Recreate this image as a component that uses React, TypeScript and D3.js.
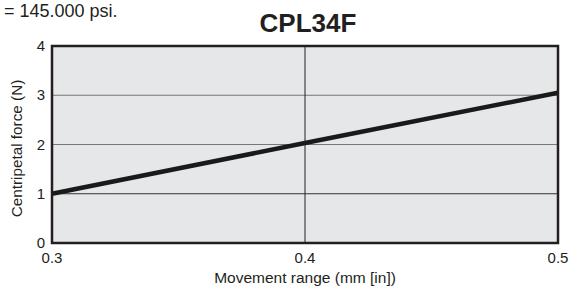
import * as d3 from "d3";
import React, { useRef, useEffect } from "react";

// data
const movement = [0.3, 0.4, 0.5];
const force = [1.0, 2.03, 3.05];
const xTicks = [0.3, 0.4, 0.5];
const yTicks = [0, 1, 2, 3, 4];

const width = 571;
const height = 290;
const margin = { top: 46, right: 13, bottom: 47, left: 52 };
const font = "'Liberation Sans', Arial, sans-serif";
const ink = "#231f20";

export default function App() {
  const ref = useRef<SVGSVGElement>(null);

  useEffect(() => {
    const svg = d3.select(ref.current);
    svg.selectAll("*").remove();

    const x = d3
      .scaleLinear()
      .domain([0.3, 0.5])
      .range([margin.left, width - margin.right]);
    const y = d3
      .scaleLinear()
      .domain([0, 4])
      .range([height - margin.bottom, margin.top]);

    // plot background
    svg
      .append("rect")
      .attr("x", x(0.3))
      .attr("y", y(4))
      .attr("width", x(0.5) - x(0.3))
      .attr("height", y(0) - y(4))
      .attr("fill", "#e6e7e8");

    // horizontal grid
    svg
      .append("g")
      .selectAll("line")
      .data(yTicks.slice(1, -1))
      .enter()
      .append("line")
      .attr("x1", x(0.3))
      .attr("x2", x(0.5))
      .attr("y1", d => y(d))
      .attr("y2", d => y(d))
      .attr("stroke", d => (d === 1 ? "#333" : "#777"))
      .attr("stroke-width", 1);

    // vertical line at 0.4
    svg
      .append("line")
      .attr("x1", x(0.4))
      .attr("x2", x(0.4))
      .attr("y1", y(0))
      .attr("y2", y(4))
      .attr("stroke", "#222")
      .attr("stroke-width", 1);

    // the curve
    const line = d3
      .line<number>()
      .x((d, i) => x(movement[i]))
      .y(d => y(d));
    svg
      .append("path")
      .datum(force)
      .attr("d", line)
      .attr("fill", "none")
      .attr("stroke", "#1a1a1a")
      .attr("stroke-width", 4.5);

    // frame
    svg
      .append("rect")
      .attr("x", x(0.3))
      .attr("y", y(4))
      .attr("width", x(0.5) - x(0.3))
      .attr("height", y(0) - y(4))
      .attr("fill", "none")
      .attr("stroke", ink)
      .attr("stroke-width", 2.5);

    // y tick labels
    svg
      .append("g")
      .selectAll("text")
      .data(yTicks)
      .enter()
      .append("text")
      .attr("x", x(0.3) - 7)
      .attr("y", d => y(d) + 5)
      .attr("text-anchor", "end")
      .attr("font-family", font)
      .attr("font-size", 15)
      .attr("fill", ink)
      .text(d => d);

    // x tick labels
    svg
      .append("g")
      .selectAll("text")
      .data(xTicks)
      .enter()
      .append("text")
      .attr("x", d => x(d))
      .attr("y", 263)
      .attr("text-anchor", "middle")
      .attr("font-family", font)
      .attr("font-size", 15)
      .attr("fill", ink)
      .text(d => d.toFixed(1));

    // axis titles
    svg
      .append("text")
      .attr("x", (x(0.3) + x(0.5)) / 2)
      .attr("y", 283)
      .attr("text-anchor", "middle")
      .attr("font-family", font)
      .attr("font-size", 15.5)
      .attr("fill", ink)
      .text("Movement range (mm [in])");

    svg
      .append("text")
      .attr("transform", `translate(22, ${(y(0) + y(4)) / 2 + 4}) rotate(-90)`)
      .attr("text-anchor", "middle")
      .attr("font-family", font)
      .attr("font-size", 15.3)
      .attr("fill", ink)
      .text("Centripetal force (N)");

    // title
    svg
      .append("text")
      .attr("x", 308)
      .attr("y", 32)
      .attr("text-anchor", "middle")
      .attr("font-family", font)
      .attr("font-size", 26)
      .attr("font-weight", "bold")
      .attr("fill", ink)
      .text("CPL34F");

    // leftover note from the page above
    svg
      .append("text")
      .attr("x", 4)
      .attr("y", 17)
      .attr("font-family", font)
      .attr("font-size", 18)
      .attr("fill", ink)
      .text("= 145.000 psi.");
  }, []);

  return (
    <svg
      ref={ref}
      width={width}
      height={height}
      style={{ position: "absolute", left: 0, top: 0, background: "#fff" }}
    ></svg>
  );
}
